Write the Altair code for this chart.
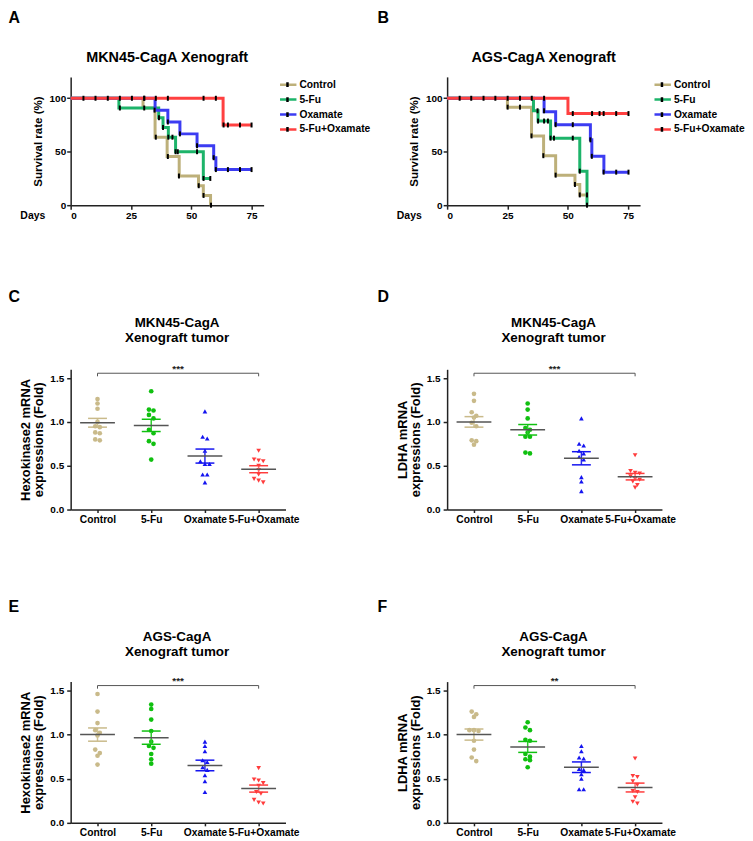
import altair as alt
import pandas as pd

FONT = "Liberation Sans"

groups = ["Control", "5-Fu", "Oxamate", "5-Fu+Oxamate"]
km_colors = ["#BDB07A", "#1DB46A", "#3C3CF2", "#FF4040"]
dot_colors = ["#C9BA8A", "#10C010", "#1414F0", "#FF3C3C"]
sem_colors = ["#CFC293", "#2BCB2B", "#2A2AEE", "#FF6A6A"]
dot_shapes = ["circle", "circle", "triangle-up", "triangle-down"]
mean_color = "#555555"

# ---------------- Panel A : MKN45-CagA survival (Kaplan-Meier steps) ----------------
A_ctrl_day = [0, 30, 35, 40, 45, 53, 55, 58]
A_ctrl_surv = [100, 90.9, 63.6, 45.5, 27.3, 18.2, 9.1, 0]
A_5fu_day = [0, 20, 36.5, 38.3, 40.5, 43.5, 55, 58]
A_5fu_surv = [100, 90.9, 81.8, 72.7, 63.6, 50, 25, 25]
A_oxa_day = [0, 35, 40.3, 45.3, 52.4, 59.3, 60.2, 75]
A_oxa_surv = [100, 88.9, 77.8, 66.7, 55.6, 44.4, 33.3, 33.3]
A_combo_day = [0, 63.2, 75]
A_combo_surv = [100, 75, 75]

A_ctrl_tick_day = [30.5, 35.3, 40.3, 44.9, 53.1, 55.1, 58.2]
A_ctrl_tick_surv = [100, 63.6, 45.5, 27.3, 18.2, 9.1, 0]
A_5fu_tick_day = [20.4, 30.5, 36.6, 38.3, 40.5, 42.2, 43.5, 44.4, 52.4, 55.1, 57.9]
A_5fu_tick_surv = [90.9, 90.9, 81.8, 72.7, 63.6, 63.6, 50, 50, 50, 25, 25]
A_oxa_tick_day = [34.8, 40.3, 45.3, 52.4, 59.3, 60.2, 65.2, 70.2, 75]
A_oxa_tick_surv = [88.9, 77.8, 66.7, 55.6, 44.4, 33.3, 33.3, 33.3, 33.3]
A_combo_tick_day = [5.3, 10.3, 15.4, 20.4, 25.4, 30.5, 35.3, 40.3, 55.1, 60.2, 63.4, 65.2, 70.2, 75]
A_combo_tick_surv = [100, 100, 100, 100, 100, 100, 100, 100, 100, 100, 75, 75, 75, 75]

# ---------------- Panel B : AGS-CagA survival ----------------
B_ctrl_day = [0, 25, 35, 40, 45, 53, 55, 58]
B_ctrl_surv = [100, 91.7, 64.8, 46.3, 28.1, 19.4, 9.6, 9.6]
B_5fu_day = [0, 35.8, 37.7, 42.9, 55, 58]
B_5fu_surv = [100, 88.3, 78.7, 62.7, 31.8, 0]
B_oxa_day = [0, 40.2, 45, 59.4, 60, 65, 75]
B_oxa_surv = [100, 87.5, 75.3, 61.1, 45.7, 30.9, 30.9]
B_combo_day = [0, 50.1, 75]
B_combo_surv = [100, 85.7, 85.7]

B_ctrl_tick_day = [25.1, 30.2, 35, 39.9, 45, 53, 55, 58]
B_ctrl_tick_surv = [91.7, 91.7, 64.8, 46.3, 28.1, 19.4, 9.6, 9.6]
B_5fu_tick_day = [37.5, 37.7, 40.2, 41.8, 42.9, 44.3, 52.1, 55, 58]
B_5fu_tick_surv = [88.3, 78.7, 78.7, 78.7, 62.7, 62.7, 62.7, 31.8, 0]
B_oxa_tick_day = [40.2, 45, 52.1, 59.4, 60, 64.9, 70.1, 75.2]
B_oxa_tick_surv = [88.3, 75.3, 75.3, 61.1, 45.7, 30.9, 30.9, 30.9]
B_combo_tick_day = [5.2, 10, 15.1, 20, 25.1, 30.2, 35.1, 40.2, 52.1, 60.1, 63.2, 64.9, 70.1, 75.2]
B_combo_tick_surv = [100, 100, 100, 100, 100, 100, 100, 100, 85.7, 85.7, 85.7, 85.7, 85.7, 85.7]

# ---------------- Panels C-F : mRNA expression (fold) ----------------
C_ctrl = [1.26, 1.21, 1.15, 1.00, 0.95, 0.94, 0.88, 0.87, 0.80, 0.79]
C_5fu = [1.35, 1.14, 1.13, 1.08, 1.04, 0.91, 0.87, 0.78, 0.75, 0.57]
C_oxa = [1.12, 0.83, 0.81, 0.67, 0.55, 0.52, 0.52, 0.40, 0.40, 0.31]
C_combo = [0.67, 0.57, 0.56, 0.55, 0.50, 0.45, 0.40, 0.35, 0.33, 0.31]
C_mean = [0.99, 0.96, 0.61, 0.46]
C_sem = [0.05, 0.07, 0.08, 0.04]

D_ctrl = [1.32, 1.24, 1.11, 1.07, 1.05, 0.99, 0.95, 0.79, 0.78, 0.74]
D_5fu = [1.21, 1.14, 1.04, 0.93, 0.91, 0.88, 0.83, 0.83, 0.65, 0.64]
D_oxa = [1.04, 0.75, 0.73, 0.67, 0.64, 0.60, 0.57, 0.37, 0.32, 0.21]
D_combo = [0.62, 0.44, 0.42, 0.41, 0.38, 0.35, 0.34, 0.32, 0.28, 0.25]
D_mean = [1.00, 0.91, 0.585, 0.375]
D_sem = [0.06, 0.06, 0.075, 0.037]

E_ctrl = [1.46, 1.26, 1.13, 1.05, 1.02, 0.99, 0.83, 0.79, 0.76, 0.66]
E_5fu = [1.34, 1.29, 1.17, 1.04, 0.92, 0.87, 0.85, 0.78, 0.72, 0.67]
E_oxa = [0.92, 0.87, 0.81, 0.71, 0.69, 0.63, 0.60, 0.54, 0.47, 0.35]
E_combo = [0.62, 0.49, 0.48, 0.45, 0.42, 0.35, 0.33, 0.26, 0.23, 0.22]
E_mean = [1.00, 0.965, 0.65, 0.388]
E_sem = [0.075, 0.075, 0.06, 0.04]

F_ctrl = [1.26, 1.23, 1.20, 1.05, 1.05, 1.04, 0.93, 0.83, 0.74, 0.70]
F_5fu = [1.14, 1.08, 1.05, 0.94, 0.93, 0.78, 0.75, 0.72, 0.71, 0.63]
F_oxa = [0.87, 0.81, 0.74, 0.73, 0.61, 0.60, 0.55, 0.50, 0.38, 0.38]
F_combo = [0.73, 0.53, 0.52, 0.47, 0.43, 0.36, 0.35, 0.29, 0.24, 0.22]
F_mean = [1.00, 0.86, 0.63, 0.40]
F_sem = [0.063, 0.062, 0.06, 0.05]

sig_labels = ["***", "***", "***", "**"]
sig_level = 1.555
sig_tip = 1.52

TICK = "M0,-0.4V0.4"
LINE_SYM = "M-1.5,0H1.5"

AX = dict(grid=False, domainColor="#222222", domainWidth=1.5, tickColor="#222222",
          tickWidth=1.5, tickSize=4, labelColor="black", labelFont=FONT,
          labelFontWeight="bold", titleFont=FONT, titleFontWeight="bold",
          titleColor="black", labelOverlap=False)


def txt(text, x, y, size, align="center", baseline="alphabetic"):
    return alt.Chart(pd.DataFrame({"t": [text]})).mark_text(
        font=FONT, fontSize=size, fontWeight="bold", align=align,
        baseline=baseline, color="black").encode(
        x=alt.value(x), y=alt.value(y), text="t:N")


def km_panel(curves, tick_sets, letter, title, letter_x, leg_x):
    lrows = []
    for g, days, survs in curves:
        for d, s in zip(days, survs):
            lrows.append({"group": g, "day": d, "surv": s})
    ldf = pd.DataFrame(lrows)
    trows = []
    for g, days, survs in tick_sets:
        for d, s in zip(days, survs):
            trows.append({"grp": g, "day": d, "surv": s})
    tdf = pd.DataFrame(trows)

    xs = alt.Scale(domain=[0, 80], nice=False)
    ys = alt.Scale(domain=[0, 120], nice=False)
    x = alt.X("day:Q", scale=xs, axis=alt.Axis(
        values=[0, 25, 50, 75], title="Days", titleX=-26, titleY=13,
        titleAlign="right", titleBaseline="alphabetic", titleFontSize=10.5,
        labelFontSize=10, labelPadding=1, **AX))
    y = alt.Y("surv:Q", scale=ys, axis=alt.Axis(
        values=[0, 25, 50, 75, 100], title="Survival rate (%)",
        titleFontSize=11.6, titlePadding=6, labelFontSize=10, labelPadding=1, **AX))
    leg = dict(orient="none", legendY=0.5, title=None,
               symbolSize=144, symbolStrokeWidth=2.5, rowPadding=0, clipHeight=14.7,
               labelFont=FONT, labelFontSize=10.3,
               labelFontWeight="bold", padding=0, symbolOffset=0)
    color = alt.Color("group:N", scale=alt.Scale(domain=groups, range=km_colors),
                      legend=alt.Legend(symbolType=LINE_SYM, labelColor="black",
                                        legendX=leg_x, labelOffset=4.5, **leg))
    layers = []
    for g in groups:
        layers.append(alt.Chart(ldf).transform_filter(alt.datum.group == g)
                      .mark_line(interpolate="step-after", strokeWidth=3)
                      .encode(x=x, y=y, color=color))
    ticks = alt.Chart(tdf).mark_point(
        filled=False, stroke="black", strokeWidth=2, size=156, opacity=1).encode(
        x=alt.X("day:Q", scale=xs), y=alt.Y("surv:Q", scale=ys),
        shape=alt.Shape("grp:N", sort=groups, scale=alt.Scale(range=[TICK] * 4),
                        legend=alt.Legend(symbolStrokeColor="black",
                                          symbolFillColor="transparent",
                                          legendX=leg_x, labelOffset=4.5,
                                          labelExpr="''", symbolOpacity=1, **leg)))
    layers.append(ticks)
    layers.append(txt(letter, letter_x, -67, 16, align="left", baseline="top"))
    layers.append(txt(title, 97, -14.5, 14.5))
    return alt.layer(*layers).properties(width=194, height=129)


def spread(values, thr=0.045, step=0.085):
    order = sorted(range(len(values)), key=lambda i: -values[i])
    offs = [0.0] * len(values)
    clusters = []
    cur = [order[0]]
    for i in order[1:]:
        if values[cur[0]] - values[i] < thr:
            cur.append(i)
        else:
            clusters.append(cur)
            cur = [i]
    clusters.append(cur)
    for c in clusters:
        n = len(c)
        for k, i in enumerate(c):
            offs[i] = (k - (n - 1) / 2) * step
    return offs


def strip_panel(vals, means, sems, sig, ytitle, t1, t2, letter, letter_x,
                letter_y, ty1, ty2, height, yrange=None):
    rows = []
    for gi, (g, v) in enumerate(zip(groups, vals)):
        for val, o in zip(v, spread(v)):
            rows.append({"group": g, "pos": gi + o, "val": val})
    pts = pd.DataFrame(rows)
    stats = pd.DataFrame({"group": groups, "pos": list(range(len(groups))),
                          "mean": means, "sem": sems})
    stats["lo"] = stats["mean"] - stats["sem"]
    stats["hi"] = stats["mean"] + stats["sem"]
    i0, i1 = groups.index("Control"), groups.index("5-Fu+Oxamate")
    br = pd.DataFrame({"x1": [i0], "x2": [i1], "y": [sig_level], "tip": [sig_tip],
                       "mid": [(i0 + i1) / 2], "label": [sig]})
    ends = pd.DataFrame({"x": [i0, i1], "y": [sig_level, sig_level],
                         "tip": [sig_tip, sig_tip]})

    xs = alt.Scale(domain=[-0.5, 3.5], nice=False, zero=False)
    ys_kw = dict(domain=[0, 1.6], nice=False)
    if yrange is not None:
        ys_kw["range"] = yrange
    ys = alt.Scale(**ys_kw)
    label_expr = "[" + ",".join("'%s'" % g for g in groups) + "][datum.value]"
    last = len(groups) - 1
    x = alt.X("pos:Q", scale=xs, axis=alt.Axis(
        values=list(range(len(groups))), labelExpr=label_expr, title=None,
        labelFontSize=10.3, labelPadding=2,
        labelOffset={"condition": {"test": "datum.value == %d" % last, "value": 5}, "value": 0},
        **{**AX, "tickSize": 3}))
    y = alt.Y("val:Q", scale=ys, axis=alt.Axis(
        values=[0, 0.5, 1.0, 1.5], format=".1f", title=ytitle, titleFontSize=13,
        titleLineHeight=13, titlePadding=4, labelFontSize=10, labelPadding=3, **AX))
    col = alt.Color("group:N", scale=alt.Scale(domain=groups, range=dot_colors), legend=None)

    points = alt.Chart(pts).mark_point(filled=True, size=22, opacity=1).encode(
        x=x, y=y, color=col,
        shape=alt.Shape("group:N", scale=alt.Scale(domain=groups, range=dot_shapes), legend=None))
    sem_rule = alt.Chart(stats).mark_rule(strokeWidth=1.5).encode(
        x=alt.X("pos:Q", scale=xs), y=alt.Y("lo:Q", scale=ys), y2="hi:Q",
        stroke=alt.Stroke("group:N", scale=alt.Scale(domain=groups, range=sem_colors), legend=None))
    cap_lo = alt.Chart(stats).mark_tick(orient="horizontal", size=19, thickness=1.5, opacity=1).encode(
        x=alt.X("pos:Q", scale=xs), y=alt.Y("lo:Q", scale=ys),
        color=alt.Color("group:N", scale=alt.Scale(domain=groups, range=sem_colors), legend=None))
    cap_hi = alt.Chart(stats).mark_tick(orient="horizontal", size=19, thickness=1.5, opacity=1).encode(
        x=alt.X("pos:Q", scale=xs), y=alt.Y("hi:Q", scale=ys),
        color=alt.Color("group:N", scale=alt.Scale(domain=groups, range=sem_colors), legend=None))
    mean_tick = alt.Chart(stats).mark_tick(orient="horizontal", size=35, thickness=1.5,
                                          opacity=1, color=mean_color).encode(
        x=alt.X("pos:Q", scale=xs), y=alt.Y("mean:Q", scale=ys))
    bracket = alt.Chart(br).mark_rule(color="#555555", strokeWidth=1).encode(
        x=alt.X("x1:Q", scale=xs), x2="x2:Q", y=alt.Y("y:Q", scale=ys))
    bracket_ends = alt.Chart(ends).mark_rule(color="#555555", strokeWidth=1).encode(
        x=alt.X("x:Q", scale=xs), y=alt.Y("y:Q", scale=ys), y2="tip:Q")
    sig_text = alt.Chart(br).mark_text(font=FONT, fontSize=10, fontWeight="bold",
                                       baseline="alphabetic", dy=-1.5, color="#222222").encode(
        x=alt.X("mid:Q", scale=xs), y=alt.Y("y:Q", scale=ys), text="label:N")
    layers = [points, sem_rule, cap_lo, cap_hi, mean_tick, bracket, bracket_ends, sig_text,
              txt(letter, letter_x, letter_y, 16, align="left", baseline="top"),
              txt(t1, 107, ty1, 13.5), txt(t2, 107, ty2, 13.5)]
    return alt.layer(*layers).properties(width=216, height=height)


A = km_panel(
    [("Control", A_ctrl_day, A_ctrl_surv), ("5-Fu", A_5fu_day, A_5fu_surv),
     ("Oxamate", A_oxa_day, A_oxa_surv), ("5-Fu+Oxamate", A_combo_day, A_combo_surv)],
    [("Control", A_ctrl_tick_day, A_ctrl_tick_surv), ("5-Fu", A_5fu_tick_day, A_5fu_tick_surv),
     ("Oxamate", A_oxa_tick_day, A_oxa_tick_surv), ("5-Fu+Oxamate", A_combo_tick_day, A_combo_tick_surv)],
    "A", "MKN45-CagA Xenograft", -62.5, 210.5)
B = km_panel(
    [("Control", B_ctrl_day, B_ctrl_surv), ("5-Fu", B_5fu_day, B_5fu_surv),
     ("Oxamate", B_oxa_day, B_oxa_surv), ("5-Fu+Oxamate", B_combo_day, B_combo_surv)],
    [("Control", B_ctrl_tick_day, B_ctrl_tick_surv), ("5-Fu", B_5fu_tick_day, B_5fu_tick_surv),
     ("Oxamate", B_oxa_tick_day, B_oxa_tick_surv), ("5-Fu+Oxamate", B_combo_tick_day, B_combo_tick_surv)],
    "B", "AGS-CagA Xenograft", -70, 208.5)

hk_title = ["Hexokinase2 mRNA", "expressions (Fold)"]
ld_title = ["LDHA mRNA", "expressions (Fold)"]

C = strip_panel([C_ctrl, C_5fu, C_oxa, C_combo], C_mean, C_sem, sig_labels[0], hk_title,
                "MKN45-CagA", "Xenograft tumor", "C", -62.5, -80.6, -42.5, -27, 141)
D = strip_panel([D_ctrl, D_5fu, D_oxa, D_combo], D_mean, D_sem, sig_labels[1], ld_title,
                "MKN45-CagA", "Xenograft tumor", "D", -70, -80.6, -42.5, -27, 141)
E = strip_panel([E_ctrl, E_5fu, E_oxa, E_combo], E_mean, E_sem, sig_labels[2], hk_title,
                "AGS-CagA", "Xenograft tumor", "E", -62.5, -75, -33.3, -17.7, 150, [150, 8])
F = strip_panel([F_ctrl, F_5fu, F_oxa, F_combo], F_mean, F_sem, sig_labels[3], ld_title,
                "AGS-CagA", "Xenograft tumor", "F", -70, -75, -33.3, -17.7, 150, [150, 8])

chart = alt.concat(A, B, C, D, E, F, columns=2, spacing={"row": 165, "column": 162.5},
                   bounds="flush").resolve_scale(
    color="independent", shape="independent", stroke="independent"
).resolve_legend(color="independent", shape="independent").properties(
    padding=0, background="white"
).configure_view(stroke=None)

chart.save("out.html", embed_options={"renderer": "svg", "actions": False})
